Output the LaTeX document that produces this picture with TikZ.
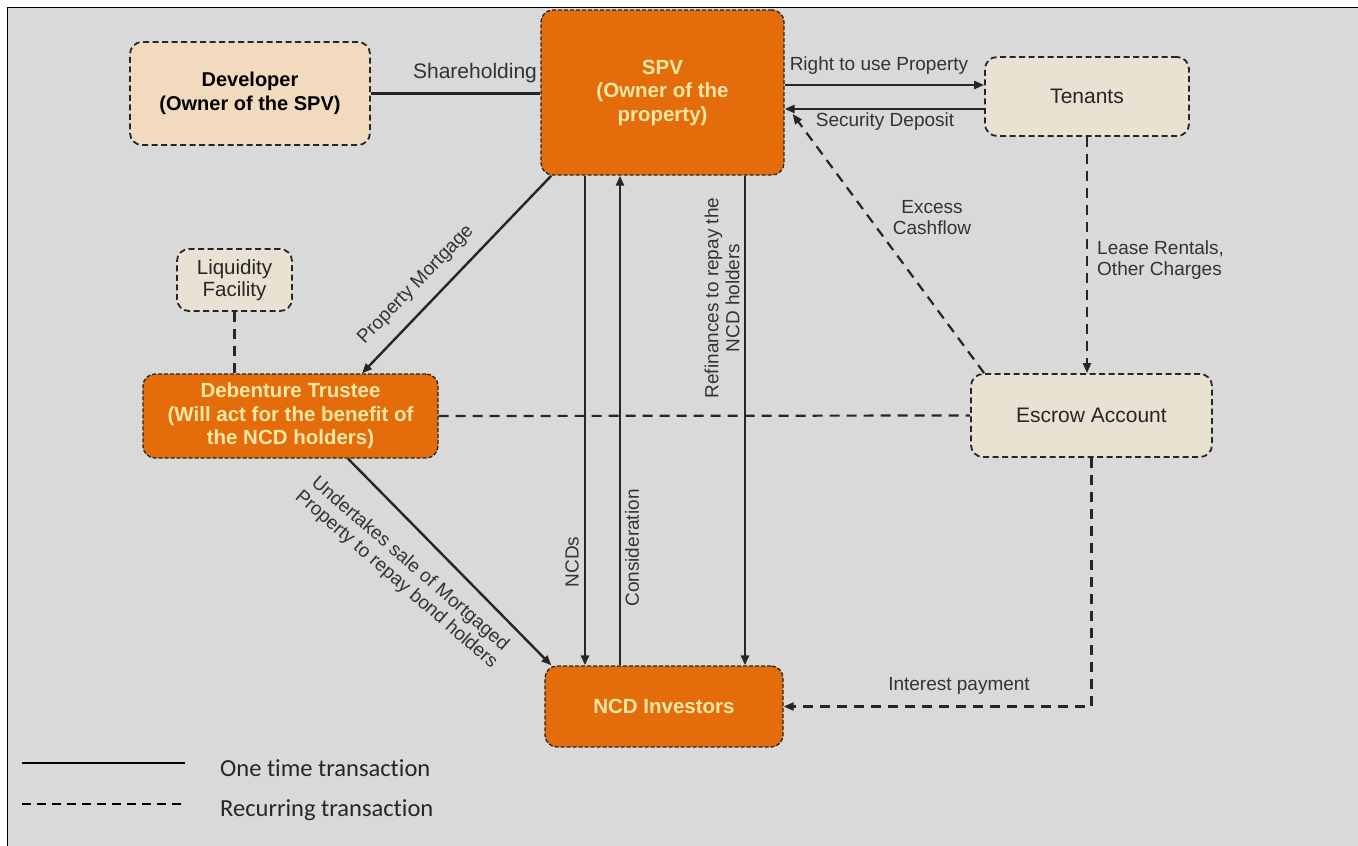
\documentclass[tikz,border=0pt]{standalone}
\usepackage{fontspec}
\setmainfont{Liberation Sans}
\newfontfamily\legendfont[Ligatures=NoCommon]{Carlito}
\usetikzlibrary{arrows.meta,calc}
\definecolor{bg}{RGB}{217,217,217}
\definecolor{orng}{RGB}{228,108,10}
\definecolor{peach}{RGB}{241,218,190}
\definecolor{beige}{RGB}{233,226,211}
\definecolor{ink}{RGB}{38,38,38}
\definecolor{labelink}{RGB}{51,51,51}
\definecolor{paleyel}{RGB}{253,232,165}
\tikzset{
 box/.style={rectangle, rounded corners=12pt, draw=ink, line width=1.8pt, dash pattern=on 6pt off 3.5pt, inner sep=0pt, align=center, font=\fontsize{21}{22}\selectfont, text=ink},
 obox/.style={box, fill=orng, text=paleyel, line width=1.3pt, dash pattern=on 4pt off 2pt, font=\bfseries\fontsize{20.5}{23.5}\selectfont},
 solidc/.style={draw=ink, line width=2.4pt},
 dashc/.style={draw=ink, line width=2.2pt, dash pattern=on 10pt off 7pt},
 tip/.style={-{Triangle[length=10pt,width=8pt]}},
 lbl/.style={font=\fontsize{19}{21}\selectfont, text=labelink, align=center, inner sep=0pt},
 legtext/.style={font=\legendfont\fontsize{24.5}{26}\selectfont, text=ink, anchor=west, inner sep=0pt},
}
\begin{document}
\begin{tikzpicture}[x=1pt,y=-1pt]
\useasboundingbox (0,0) rectangle (1358,846);
\fill[white] (0,0) rectangle (1358,846);
\fill[bg] (7.5,7.5) rectangle (1358,846);
\draw[black, line width=1.5pt] (7.5,846) -- (7.5,7.5) -- (1358,7.5);

% boxes
\node[box, fill=peach, minimum width=240pt, minimum height=103pt, font=\bfseries\fontsize{20}{24}\selectfont, text=black] (dev) at (250,93.5) {Developer\\(Owner of the SPV)};
\node[obox, minimum width=243pt, minimum height=165pt] (spv) at (662.5,92.5) {SPV\\(Owner of the\\property)};
\node[box, fill=beige, minimum width=204pt, minimum height=79pt] (ten) at (1087,96.5) {Tenants};
\node[box, fill=beige, minimum width=115pt, minimum height=62pt, font=\fontsize{20.5}{22}\selectfont] (liq) at (234.5,280) {Liquidity\\Facility};
\node[obox, minimum width=295pt, minimum height=84pt] (deb) at (290.5,416) {Debenture Trustee\\(Will act for the benefit of\\the NCD holders)};
\node[box, fill=beige, minimum width=241pt, minimum height=83pt] (esc) at (1091.5,415.5) {Escrow Account};
\node[obox, minimum width=238pt, minimum height=81pt] (ncd) at (664,706.5) {NCD Investors};

% solid connectors
\draw[solidc] (dev.east) -- (dev.east -| spv.west);
\draw[solidc, tip] ([yshift=7.5pt]spv.east) -- ([yshift=7.5pt]spv.east -| ten.west);
\draw[solidc, tip] ([yshift=-16.5pt]spv.east -| ten.west) -- ([yshift=-16.5pt]spv.east);
\draw[solidc, tip] ([xshift=11pt]spv.south west) -- ([xshift=71.5pt]deb.north);
\draw[solidc, tip] ([xshift=-77.5pt]spv.south) -- ([xshift=-77.5pt]spv.south |- ncd.north);
\draw[solidc, tip] ([xshift=-42.5pt]spv.south |- ncd.north) -- ([xshift=-42.5pt]spv.south);
\draw[solidc, tip] ([xshift=82.5pt]spv.south) -- ([xshift=82.5pt]spv.south |- ncd.north);
\draw[solidc, tip] ([xshift=57.5pt]deb.south) -- ([xshift=7pt]ncd.north west);

% dashed connectors
\draw[dashc] (deb.east) -- (esc.west);
\draw[dashc] (liq.south) -- (liq.south |- deb.north);
\draw[dashc, tip] (ten.south) -- (ten.south |- esc.north);
\draw[dashc, tip] ([xshift=14pt]esc.north west) -- ([xshift=8pt,yshift=-21.5pt]spv.east);
\draw[dashc, tip] (esc.south) |- (ncd.east);

% labels
\node[lbl, font=\fontsize{21}{22}\selectfont] (l1) at (475,73) {Shareholding};
\node[lbl] (l2) at (879,66) {Right to use Property};
\node[lbl] (l3) at (885,122) {Security Deposit};
\node[lbl, rotate=46] (l4) at (416,285) {Property Mortgage};
\node[lbl, rotate=-41] (l5) at (403,572) {Undertakes sale of Mortgaged\\Property to repay bond holders};
\node[lbl, rotate=90] (l6) at (572,562) {NCDs};
\node[lbl, rotate=90] (l7) at (632,548) {Consideration};
\node[lbl, rotate=90] (l8) at (722,298) {Refinances to repay the\\NCD holders};
\node[lbl] (l9) at (932,218) {Excess\\Cashflow};
\node[lbl, align=left, anchor=west] (l10) at (1097,260) {Lease Rentals,\\Other Charges};
\node[lbl] (l11) at (959,686) {Interest payment};

% legend
\coordinate (a1) at (22,763);
\coordinate (a2) at (185,763);
\coordinate (b1) at (22,804);
\coordinate (b2) at (185,804);
\draw[black, line width=2.4pt] (a1) -- (a2);
\draw[black, line width=2pt, dash pattern=on 9pt off 6pt] (b1) -- (b2);
\node[legtext] (t1) at (220,768) {One time transaction};
\node[legtext] (t2) at (220,810) {Recurring transaction};
\end{tikzpicture}
\end{document}
